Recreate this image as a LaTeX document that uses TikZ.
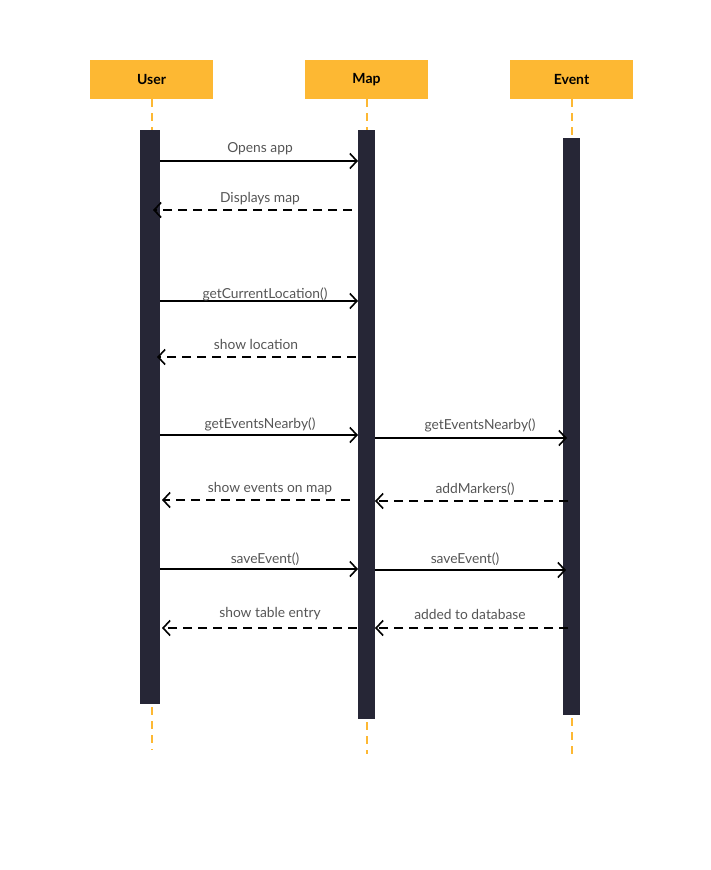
\documentclass[tikz,border=0pt]{standalone}
\usepackage{fontspec}
\setmainfont{Lato}
\usetikzlibrary{arrows.meta}
\definecolor{hdr}{HTML}{FDB833}
\definecolor{bar}{HTML}{262636}
\definecolor{lbl}{HTML}{555555}
\tikzset{
  hdrbox/.style={fill=hdr, minimum width=123pt, minimum height=39pt, inner sep=0pt, font=\bfseries\fontsize{14}{16}\selectfont, text=black},
  actbar/.style={fill=bar, draw=none, inner sep=0pt, anchor=north west},
  life/.style={draw=hdr, line width=2pt, dash pattern=on 8pt off 6pt},
  msg/.style={line width=1.6pt, -{Straight Barb[length=7pt,width=15pt,line width=1.6pt]}},
  ret/.style={msg, dash pattern=on 9pt off 6pt},
  lab/.style={font=\fontsize{13.8}{15}\selectfont, text=lbl, inner sep=0pt}
}
\begin{document}
\begin{tikzpicture}[x=1pt,y=-1pt]
\useasboundingbox (0,0) rectangle (710,870);
% headers
\node[hdrbox] (hu) at (151.5,79.5) {User};
\node[hdrbox] (hm) at (366.5,79.5) {Map};
\node[hdrbox] (he) at (571.5,79.5) {Event};
% activation bars
\node[actbar, minimum width=20pt, minimum height=574pt] (bu) at (140,130) {};
\node[actbar, minimum width=17pt, minimum height=589pt] (bm) at (358,130) {};
\node[actbar, minimum width=17pt, minimum height=577pt] (be) at (563,138) {};
% lifelines
\coordinate (uend) at (151.5,750);
\coordinate (mend) at (366.5,754);
\coordinate (eend) at (571.5,754);
\draw[life] (hu.south) -- (hu.south |- bu.north);
\draw[life] (hm.south) -- (hm.south |- bm.north);
\draw[life] (he.south) -- (he.south |- be.north);
\draw[life] (hu.south |- bu.south) ++(0,3) -- (uend);
\draw[life] (hm.south |- bm.south) ++(0,3) -- (mend);
\draw[life] (he.south |- be.south) ++(0,3) -- (eend);
% message endpoints
\coordinate (a1s) at (160,161); \coordinate (a1e) at (358,161);
\coordinate (a2s) at (352,210); \coordinate (a2e) at (153,210);
\coordinate (a3s) at (160,301); \coordinate (a3e) at (358,301);
\coordinate (a4s) at (356,357); \coordinate (a4e) at (157,357);
\coordinate (a5s) at (160,435); \coordinate (a5e) at (358,435);
\coordinate (a6s) at (375,438); \coordinate (a6e) at (567,438);
\coordinate (a7s) at (350,500); \coordinate (a7e) at (162,500);
\coordinate (a8s) at (568,501); \coordinate (a8e) at (375,501);
\coordinate (a9s) at (160,569); \coordinate (a9e) at (358,569);
\coordinate (a10s) at (375,570); \coordinate (a10e) at (566,570);
\coordinate (a11s) at (357,628); \coordinate (a11e) at (162,628);
\coordinate (a12s) at (568,628); \coordinate (a12e) at (375,628);
% messages
\draw[msg] (a1s) -- (a1e);
\draw[ret] (a2s) -- (a2e);
\draw[msg] (a3s) -- (a3e);
\draw[ret] (a4s) -- (a4e);
\draw[msg] (a5s) -- (a5e);
\draw[msg] (a6s) -- (a6e);
\draw[ret] (a7s) -- (a7e);
\draw[ret] (a8s) -- (a8e);
\draw[msg] (a9s) -- (a9e);
\draw[msg] (a10s) -- (a10e);
\draw[ret] (a11s) -- (a11e);
\draw[ret] (a12s) -- (a12e);
% labels
\node[lab] (l1) at (260,149) {Opens app};
\node[lab] (l2) at (260,199) {Displays map};
\node[lab] (l3) at (265,294) {getCurrentLocation()};
\node[lab] (l4) at (256,344) {show location};
\node[lab] (l5) at (260,424) {getEventsNearby()};
\node[lab] (l6) at (480,425) {getEventsNearby()};
\node[lab] (l7) at (270,489) {show events on map};
\node[lab] (l8) at (475,489) {addMarkers()};
\node[lab] (l9) at (265,559) {saveEvent()};
\node[lab] (l10) at (465,559) {saveEvent()};
\node[lab] (l11) at (270,614) {show table entry};
\node[lab] (l12) at (470,614) {added to database};
\end{tikzpicture}
\end{document}
